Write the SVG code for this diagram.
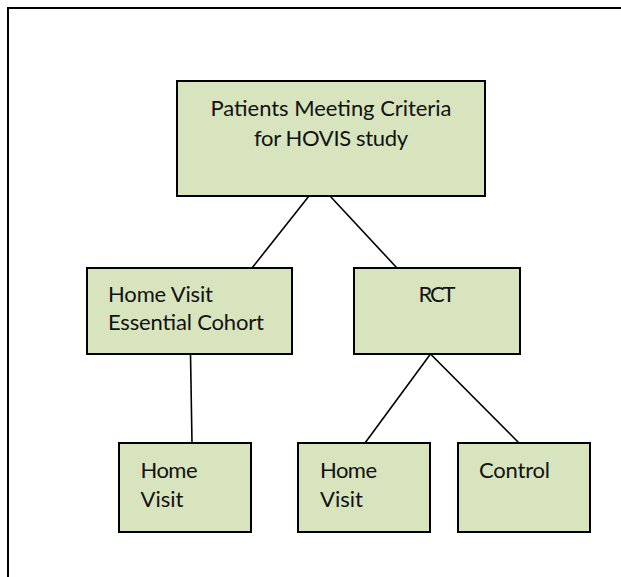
<svg xmlns="http://www.w3.org/2000/svg" width="621" height="577" viewBox="0 0 621 577">
<style>
.box{fill:#D7E4BD;stroke:#000;stroke-width:2}
.t{font-family:Lato,"Open Sans","Liberation Sans",sans-serif;font-size:22px;fill:#111}
.c{text-anchor:middle}
.ln{stroke:#000;stroke-width:1.6;fill:none}
.frame{stroke:#000;stroke-width:2;fill:none}
</style>
<rect width="621" height="577" fill="#fff"/>
<path class="frame" d="M8,577 V8 H621"/>
<g id="connectors">
<line class="ln" x1="309" y1="196" x2="252" y2="268"/>
<line class="ln" x1="330" y1="196" x2="397" y2="268"/>
<line class="ln" x1="190.5" y1="354" x2="192" y2="443"/>
<line class="ln" x1="430.5" y1="354" x2="365" y2="443"/>
<line class="ln" x1="430.5" y1="354" x2="519" y2="443"/>
</g>
<g id="n-patients">
<rect class="box" x="177" y="81" width="308" height="115"/>
<text class="t c" x="331" y="116" textLength="241">Patients Meeting Criteria</text>
<text class="t c" x="331" y="146" textLength="154">for HOVIS study</text>
</g>
<g id="n-cohort">
<rect class="box" x="87" y="268" width="205" height="86"/>
<text class="t" x="108" y="302" textLength="105">Home Visit</text>
<text class="t" x="108" y="330" textLength="156">Essential Cohort</text>
</g>
<g id="n-rct">
<rect class="box" x="354" y="268" width="166" height="86"/>
<text class="t c" x="437" y="302" textLength="37">RCT</text>
</g>
<g id="n-hv1">
<rect class="box" x="119" y="443" width="132" height="89"/>
<text class="t" x="140.5" y="478" textLength="57">Home</text>
<text class="t" x="140.5" y="507">Visit</text>
</g>
<g id="n-hv2">
<rect class="box" x="298" y="443" width="132" height="89"/>
<text class="t" x="320" y="478" textLength="57">Home</text>
<text class="t" x="320" y="507">Visit</text>
</g>
<g id="n-control">
<rect class="box" x="458" y="443" width="132" height="89"/>
<text class="t" x="479" y="478" textLength="71">Control</text>
</g>
</svg>
